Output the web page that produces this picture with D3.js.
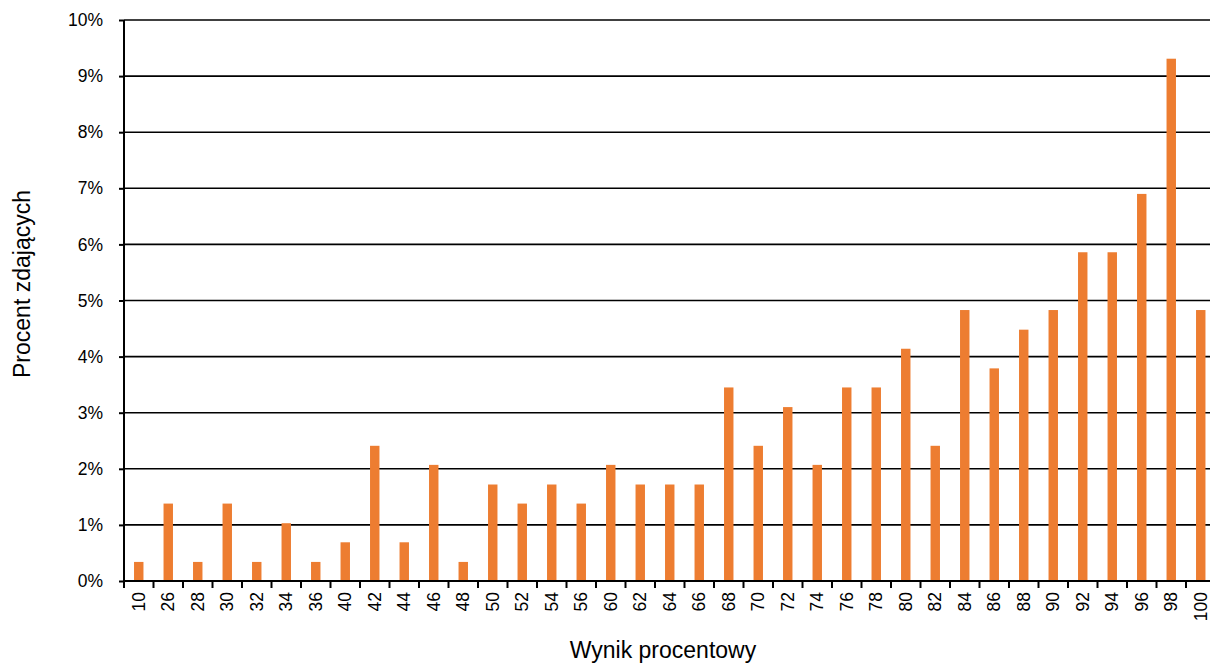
<!DOCTYPE html>
<html><head><meta charset="utf-8">
<script src="https://cdn.jsdelivr.net/npm/d3@7"></script>
<style>body{margin:0;background:#fff;overflow:hidden}svg{display:block}text{font-family:"Liberation Sans",Arial,sans-serif;fill:#000}</style>
</head><body>
<script>
const categories = ["10","26","28","30","32","34","36","40","42","44","46","48","50","52","54","56","60","62","64","66","68","70","72","74","76","78","80","82","84","86","88","90","92","94","96","98","100"];
const values = [0.34,1.38,0.34,1.38,0.34,1.03,0.34,0.69,2.41,0.69,2.07,0.34,1.72,1.38,1.72,1.38,2.07,1.72,1.72,1.72,3.45,2.41,3.10,2.07,3.45,3.45,4.14,2.41,4.83,3.79,4.48,4.83,5.86,5.86,6.90,9.31,4.83];
const yTicks = [0,1,2,3,4,5,6,7,8,9,10];
const xTitle = "Wynik procentowy";
const yTitle = "Procent zdających";

(function () {
const W = 1210, H = 664;
const mLeft = 124, mTop = 20, mBottom = 581, mRight = 1215.5;
const svg = d3.select("body").append("svg").attr("width", W).attr("height", H);
const x = d3.scaleBand().domain(categories).range([mLeft, mRight]).paddingInner(0.68).paddingOuter(0.34);
const y = d3.scaleLinear().domain([0, 10]).range([mBottom, mTop]);

// gridlines
svg.append("g").selectAll("line").data(yTicks.filter(d => d > 0)).join("line")
  .attr("x1", mLeft).attr("x2", W).attr("y1", d => y(d)).attr("y2", d => y(d))
  .attr("stroke", "#000").attr("stroke-width", 1.6);

// bars
svg.append("g").selectAll("rect").data(values).join("rect")
  .attr("x", (d, i) => x(categories[i])).attr("width", x.bandwidth())
  .attr("y", d => y(d)).attr("height", d => y(0) - y(d))
  .attr("fill", "#ED7D31");

// y axis
const yAxis = svg.append("g").attr("transform", `translate(${mLeft},0)`)
  .call(d3.axisLeft(y).tickValues(yTicks).tickFormat(d => d + "%").tickSize(5).tickPadding(16));
yAxis.select(".domain").attr("stroke-width", 2).attr("d", `M0,${mTop}V${mBottom}`);
yAxis.selectAll(".tick line").attr("stroke-width", 2);
yAxis.selectAll("text").attr("font-size", 17.5).attr("font-family", '"Liberation Sans",Arial,sans-serif');

// x axis
const xb = d3.scaleBand().domain(categories).range([mLeft, mRight]);
const xAxis = svg.append("g").attr("transform", `translate(0,${mBottom})`);
xAxis.append("line").attr("x1", mLeft).attr("x2", W).attr("y1", 0).attr("y2", 0).attr("stroke", "#000").attr("stroke-width", 2);
xAxis.selectAll("line.tk").data(categories).join("line").attr("class", "tk")
  .attr("x1", d => xb(d)).attr("x2", d => xb(d)).attr("y1", 0).attr("y2", 7)
  .attr("stroke", "#000").attr("stroke-width", 2);
xAxis.selectAll("text").data(categories).join("text")
  .attr("transform", d => `translate(${xb(d) + xb.bandwidth() / 2 + 6},11) rotate(-90)`)
  .attr("text-anchor", "end").attr("font-size", 17.5).text(d => d);

// titles
svg.append("text").attr("x", 663).attr("y", 658).attr("text-anchor", "middle").attr("font-size", 23).text(xTitle);
svg.append("text").attr("transform", "translate(30,284) rotate(-90)").attr("text-anchor", "middle").attr("font-size", 23).text(yTitle);
})();
</script>
</body></html>
